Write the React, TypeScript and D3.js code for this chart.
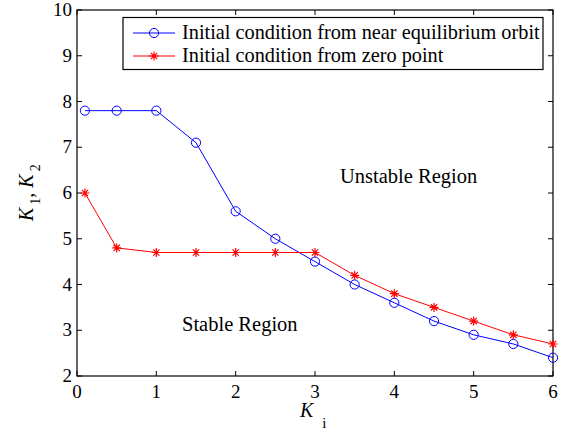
import React, { useEffect, useRef } from "react";
import * as d3 from "d3";

const kiValues = [0.1, 0.5, 1, 1.5, 2, 2.5, 3, 3.5, 4, 4.5, 5, 5.5, 6];
const nearOrbit = [7.8, 7.8, 7.8, 7.1, 5.6, 5.0, 4.5, 4.0, 3.6, 3.2, 2.9, 2.7, 2.4];
const zeroPoint = [6.0, 4.8, 4.7, 4.7, 4.7, 4.7, 4.7, 4.2, 3.8, 3.5, 3.2, 2.9, 2.7];
const xTicks = [0, 1, 2, 3, 4, 5, 6];
const yTicks = [2, 3, 4, 5, 6, 7, 8, 9, 10];
const legendLabels = [
  "Initial condition from near equilibrium orbit",
  "Initial condition from zero point",
];

export default function App() {
  const svgRef = useRef<SVGSVGElement>(null);

  useEffect(() => {
    const width = 568;
    const height = 433;
    const m = { left: 77, right: 15, top: 10, bottom: 57 };
    const font = "Liberation Serif, Times New Roman, serif";

    const svg = d3.select(svgRef.current).attr("width", width).attr("height", height)
      .style("font-family", font);
    svg.selectAll("*").remove();
    svg.append("rect").attr("width", width).attr("height", height).attr("fill", "white");

    const x = d3.scaleLinear().domain([0, 6]).range([m.left, width - m.right]);
    const y = d3.scaleLinear().domain([2, 10]).range([height - m.bottom, m.top]);
    const x0 = x(0), x1 = x(6), y0 = y(2), y1 = y(10);

    const tickLen = 5;
    const axes = svg.append("g").attr("stroke", "black").attr("stroke-width", 1);
    xTicks.forEach((t) => {
      axes.append("line").attr("x1", x(t)).attr("x2", x(t)).attr("y1", y0).attr("y2", y0 - tickLen);
      axes.append("line").attr("x1", x(t)).attr("x2", x(t)).attr("y1", y1).attr("y2", y1 + tickLen);
    });
    yTicks.forEach((t) => {
      axes.append("line").attr("x1", x0).attr("x2", x0 + tickLen).attr("y1", y(t)).attr("y2", y(t));
      axes.append("line").attr("x1", x1).attr("x2", x1 - tickLen).attr("y1", y(t)).attr("y2", y(t));
    });
    svg.append("rect")
      .attr("x", x0).attr("y", y1).attr("width", x1 - x0).attr("height", y0 - y1)
      .attr("fill", "none").attr("stroke", "black").attr("stroke-width", 1.2);

    svg.append("g").selectAll("text").data(xTicks).join("text")
      .attr("x", (d) => x(d)).attr("y", y0 + 22)
      .attr("text-anchor", "middle").attr("font-size", 19)
      .text((d) => d);
    svg.append("g").selectAll("text").data(yTicks).join("text")
      .attr("x", x0 - 5).attr("y", (d) => y(d) + 6)
      .attr("text-anchor", "end").attr("font-size", 19)
      .text((d) => d);

    // axis labels
    const xl = svg.append("text").attr("x", 300).attr("y", 417).attr("font-size", 20);
    xl.append("tspan").attr("font-style", "italic").text("K");
    xl.append("tspan").attr("dx", 9).attr("dy", 11).attr("font-size", 15).text("i");

    const yl = svg.append("text")
      .attr("transform", `translate(33, 221) rotate(-90)`)
      .attr("font-size", 20);
    yl.append("tspan").attr("font-style", "italic").text("K");
    yl.append("tspan").attr("dx", 3).attr("dy", 7).attr("font-size", 14).text("1");
    yl.append("tspan").attr("dy", -7).text(", ");
    yl.append("tspan").attr("font-style", "italic").text("K");
    yl.append("tspan").attr("dx", 3).attr("dy", 7).attr("font-size", 14).text("2");

    const line = d3.line<number>().x((_, i) => x(kiValues[i])).y((d) => y(d));

    const drawCircle = (g: any, cx: number, cy: number) =>
      g.append("circle").attr("cx", cx).attr("cy", cy).attr("r", 4.6)
        .attr("fill", "none").attr("stroke", "blue").attr("stroke-width", 1);
    const drawStar = (g: any, cx: number, cy: number) => {
      const s = 4.5;
      const p = `M${cx - s},${cy}H${cx + s}M${cx},${cy - s}V${cy + s}` +
        `M${cx - s * 0.7},${cy - s * 0.7}L${cx + s * 0.7},${cy + s * 0.7}` +
        `M${cx - s * 0.7},${cy + s * 0.7}L${cx + s * 0.7},${cy - s * 0.7}`;
      g.append("path").attr("d", p).attr("stroke", "red").attr("stroke-width", 1.2).attr("fill", "none");
    };

    svg.append("path").datum(nearOrbit).attr("d", line)
      .attr("fill", "none").attr("stroke", "blue").attr("stroke-width", 1);
    svg.append("path").datum(zeroPoint).attr("d", line)
      .attr("fill", "none").attr("stroke", "red").attr("stroke-width", 1);
    const gb = svg.append("g");
    nearOrbit.forEach((v, i) => drawCircle(gb, x(kiValues[i]), y(v)));
    const gr = svg.append("g");
    zeroPoint.forEach((v, i) => drawStar(gr, x(kiValues[i]), y(v)));

    // region labels
    svg.append("text").attr("x", 340).attr("y", 183).attr("font-size", 20.5).text("Unstable Region");
    svg.append("text").attr("x", 182).attr("y", 331).attr("font-size", 20.5).text("Stable Region");

    // legend
    const lg = svg.append("g");
    lg.append("rect").attr("x", 123).attr("y", 17.5).attr("width", 420).attr("height", 52)
      .attr("fill", "white").attr("stroke", "black").attr("stroke-width", 1.2);
    const rows = [33, 56];
    const colors = ["blue", "red"];
    rows.forEach((ry, i) => {
      lg.append("line").attr("x1", 133).attr("x2", 175).attr("y1", ry).attr("y2", ry)
        .attr("stroke", colors[i]).attr("stroke-width", 1);
      if (i === 0) drawCircle(lg, 154, ry);
      else drawStar(lg, 154, ry);
      lg.append("text").attr("x", 182).attr("y", ry + 6).attr("font-size", 20.3).text(legendLabels[i]);
    });
  }, []);

  return <svg ref={svgRef} style={{ position: "absolute", left: 0, top: 0 }}></svg>;
}
